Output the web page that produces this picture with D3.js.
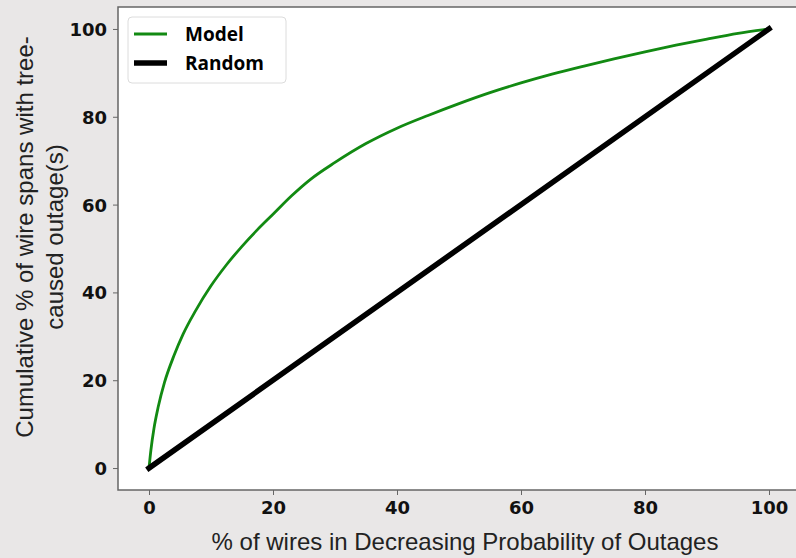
<!DOCTYPE html>
<html>
<head>
<meta charset="utf-8">
<script src="https://cdn.jsdelivr.net/npm/d3@7"></script>
<style>
  body { margin: 0; background: #e9e7e7; }
  svg { display: block; }
  .tick text { font-family: "DejaVu Sans", sans-serif; font-weight: bold; font-size: 18px; fill: #111; }
  .tick line { stroke: #666; }
</style>
</head>
<body>
<svg id="chart" width="796" height="558"></svg>
<script>
// model curve (x = % of wires, y = cumulative %)
const modelX = [0, 0.3, 0.8, 1.5, 2.5, 4, 5.5, 7.5, 10, 12.5, 15, 17.5, 20, 23, 26, 30, 35, 40, 45, 50, 55, 60, 65, 70, 75, 80, 85, 90, 95, 100];
const modelY = [0, 4, 9, 14, 19.5, 25.5, 30.5, 35.8, 41.5, 46.3, 50.5, 54.3, 57.8, 62, 65.7, 69.6, 73.9, 77.4, 80.3, 83, 85.5, 87.7, 89.7, 91.5, 93.2, 94.8, 96.3, 97.7, 99, 100];
const randomX = [0, 100];
const randomY = [0, 100];
const xTicks = [0, 20, 40, 60, 80, 100];
const yTicks = [0, 20, 40, 60, 80, 100];
const legendLabels = ["Model", "Random"];

const svg = d3.select("#chart");

// plot area (the right spine falls just outside the picture)
const plot = { left: 118, top: 7, right: 800, bottom: 490 };

const x = d3.scaleLinear().domain([-5, 105]).range([plot.left, plot.right]);
const y = d3.scaleLinear().domain([-5, 105]).range([plot.bottom, plot.top]);

svg.append("rect")
  .attr("x", plot.left).attr("y", plot.top)
  .attr("width", plot.right - plot.left).attr("height", plot.bottom - plot.top)
  .attr("fill", "#fff")
  .attr("stroke", "#666").attr("stroke-width", 1.5);

// axes
const xAxis = svg.append("g")
  .attr("transform", `translate(0,${plot.bottom})`)
  .call(d3.axisBottom(x).tickValues(xTicks).tickSize(5).tickPadding(6));
xAxis.select(".domain").remove();

const yAxis = svg.append("g")
  .attr("transform", `translate(${plot.left},0)`)
  .call(d3.axisLeft(y).tickValues(yTicks).tickSize(5).tickPadding(6));
yAxis.select(".domain").remove();
yAxis.selectAll(".tick text").attr("dy", "0.36em");

// lines
const line = d3.line().x(d => x(d[0])).y(d => y(d[1])).curve(d3.curveMonotoneX);

svg.append("path")
  .datum(modelX.map((v, i) => [v, modelY[i]]))
  .attr("d", line)
  .attr("fill", "none")
  .attr("stroke", "#128a12")
  .attr("stroke-width", 2.8);

svg.append("path")
  .datum(randomX.map((v, i) => [v, randomY[i]]))
  .attr("d", d3.line().x(d => x(d[0])).y(d => y(d[1])))
  .attr("fill", "none")
  .attr("stroke", "#000")
  .attr("stroke-width", 5.5)
  .attr("stroke-linecap", "square");

// legend
const legend = svg.append("g");
legend.append("rect")
  .attr("x", 128).attr("y", 17).attr("width", 158).attr("height", 66)
  .attr("rx", 4)
  .attr("fill", "#fff").attr("stroke", "#dcdcdc");

const legendColors = ["#128a12", "#000"];
const legendWidths = [2.8, 5.5];
legendLabels.forEach((lab, i) => {
  const ly = 34 + i * 29;
  legend.append("line")
    .attr("x1", 134).attr("x2", 167).attr("y1", ly).attr("y2", ly)
    .attr("stroke", legendColors[i]).attr("stroke-width", legendWidths[i]);
  legend.append("text")
    .attr("x", 185).attr("y", ly + 7)
    .attr("font-family", "'Open Sans', sans-serif")
    .attr("font-weight", "bold")
    .attr("font-size", 19)
    .attr("fill", "#000")
    .text(lab);
});

// axis titles
svg.append("text")
  .attr("x", 465).attr("y", 550)
  .attr("text-anchor", "middle")
  .attr("font-family", "'Liberation Sans', Arial, sans-serif")
  .attr("font-size", 24)
  .attr("fill", "#222")
  .text("% of wires in Decreasing Probability of Outages");

const yTitle = svg.append("text")
  .attr("transform", "translate(33,237) rotate(-90)")
  .attr("text-anchor", "middle")
  .attr("font-family", "'Liberation Sans', Arial, sans-serif")
  .attr("font-size", 24)
  .attr("fill", "#222");
yTitle.append("tspan").attr("x", 0).attr("y", 0).text("Cumulative % of wire spans with tree-");
yTitle.append("tspan").attr("x", 0).attr("y", 29.5).text("caused outage(s)");
</script>
</body>
</html>
